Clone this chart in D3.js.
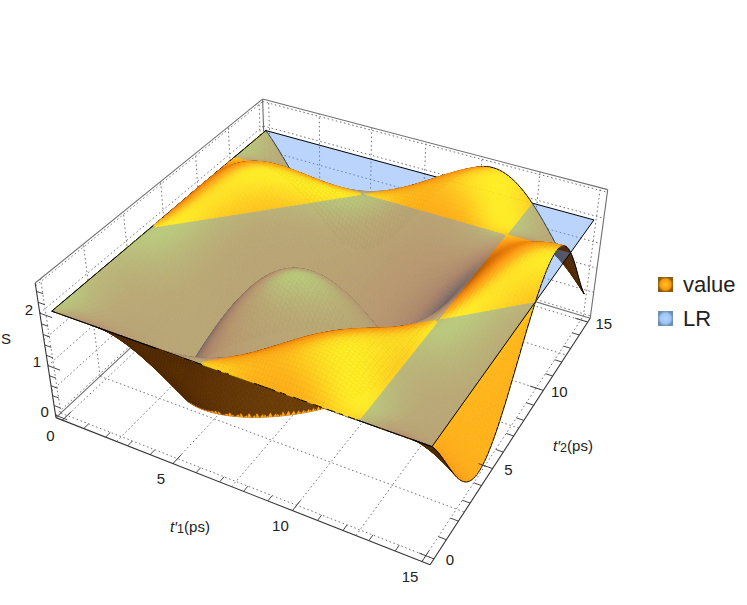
<!DOCTYPE html>
<html><head><meta charset="utf-8">
<script src="https://cdn.jsdelivr.net/npm/d3@7"></script>
<style>html,body{margin:0;background:#fff}svg{display:block}text{font-family:"Liberation Sans",Arial,sans-serif;fill:#222}</style>
</head><body><div id="chart"></div>
<script>
const tNodes=[0,1.55,3.1,4.65,6.2,7.75,9.3,10.85,12.4,13.95,15];
// signed surface heights read at the nodes; the plotted height is their magnitude (crease at S=0)
const sRow0=[2,2,2,2,2,2,2,2,2,2,2];
const sRow1=[2,1.414,1,1,1.414,2,2.414,2.414,2,1.414,1.096];
const sRow2=[2,1,0,-0.414,0,1,2,2.414,2,1,0.283];
const sRow3=[2,1,-0.414,-1.414,-1.414,-0.414,1,2,2,1,0.036];
const sRow4=[2,1.414,0,-1.414,-2,-1.414,0,1.414,2,1.414,0.501];
const sRow5=[2,2,1,-0.414,-1.414,-1.414,-0.414,1,2,2,1.405];
const sRow6=[2,2.414,2,1,0,-0.414,0,1,2,2.414,2.219];
const sRow7=[2,2.414,2.414,2,1.414,1,1,1.414,2,2.414,2.465];
const sRow8=[2,2,2,2,2,2,2,2,2,2,2];
const sRow9=[2,1.414,1,1,1.414,2,2.414,2.414,2,1.414,1.096];
const sRow10=[2,1.096,0.283,0.036,0.501,1.405,2.219,2.465,2,1.096,0.501];
const sGrid=[sRow0,sRow1,sRow2,sRow3,sRow4,sRow5,sRow6,sRow7,sRow8,sRow9,sRow10];
const planeLevel=2;
const zTicksMajor=[0,1,2];
const tTicksMajor=[0,5,10,15];
const W=747,H=605,pad=0.3,zMin=-0.05,zMax=2.55;
const bx=d3.scaleLinear([-pad,15+pad],[0,1]);
const bz=d3.scaleLinear([zMin,zMax],[0,0.4]);
// camera calibration: data point -> pixel
const anchors=[
 [0,0,2,52,311],[15,0,2,432,446],[15,15,2,594,221],[0,15,2,265,131],
 [-pad,-pad,zMin,56,418],[15+pad,-pad,zMin,430,565],[15+pad,15+pad,zMin,590,318],[-pad,15+pad,zMin,267,220],
 [-pad,-pad,zMax,35,283],[15+pad,15+pad,zMax,608,189],[-pad,15+pad,zMax,263,99]];
function solve(A,b){const n=b.length;A=A.map((r,i)=>[...r,b[i]]);
 for(let i=0;i<n;i++){let m=i;for(let k=i+1;k<n;k++)if(Math.abs(A[k][i])>Math.abs(A[m][i]))m=k;[A[i],A[m]]=[A[m],A[i]];
  for(let k=0;k<n;k++)if(k!==i){const f=A[k][i]/A[i][i];for(let q=i;q<=n;q++)A[k][q]-=f*A[i][q];}}
 return A.map((r,i)=>r[n]/r[i]);}
const rows=[],rhs=[];
anchors.forEach(([t1,t2,z,x,y])=>{const X=bx(t1),Y=bx(t2),Z=bz(z);
 rows.push([X,Y,Z,1,0,0,0,0,-x*X,-x*Y,-x*Z]);rhs.push(x);
 rows.push([0,0,0,0,X,Y,Z,1,-y*X,-y*Y,-y*Z]);rhs.push(y);});
const NtN=d3.range(11).map(i=>d3.range(11).map(j=>d3.sum(rows,r=>r[i]*r[j])));
const Ntb=d3.range(11).map(i=>d3.sum(rows,(r,k)=>r[i]*rhs[k]));
const p=solve(NtN,Ntb);
function proj(t1,t2,z){const X=bx(t1),Y=bx(t2),Z=bz(z),w=p[8]*X+p[9]*Y+p[10]*Z+1;
 return [(p[0]*X+p[1]*Y+p[2]*Z+p[3])/w,(p[4]*X+p[5]*Y+p[6]*Z+p[7])/w];}
const cam=solve([[p[0],p[1],p[2]],[p[4],p[5],p[6]],[p[8],p[9],p[10]]],[-p[3],-p[7],-1]);
// smooth surface through the table
function lag(t){let k=d3.bisectRight(tNodes,t)-3;k=Math.max(0,Math.min(tNodes.length-6,k));
 const out=[];for(let i=k;i<k+6;i++){let w=1;for(let j=k;j<k+6;j++)if(j!==i)w*=(t-tNodes[j])/(tNodes[i]-tNodes[j]);out.push([i,w]);}return out;}
const N=110,fine=d3.range(N+1).map(i=>15*i/N),W6=fine.map(lag);
const G=fine.map((_,a)=>fine.map((_,b)=>{let s=0;for(const [i,u] of W6[a])for(const [j,v] of W6[b])s+=u*v*sGrid[i][j];return s;}));
const light=[.42,-.24,.875];
const topRamp=d3.scaleLinear().domain([-.3,0,.2,.4,.6,.8,.92,.99]).range(["#5a2c00","#6e3600","#ad5702","#e67a06","#fb9810","#ffb61a","#ffda22","#ffec24"]).clamp(true);
const underRamp=d3.scaleLinear().domain([-.2,.5]).range(["#4e2803","#85500f"]).clamp(true);
function cellColor(i,j,sign){const dx=1/N*15/(15+2*pad),s=(bz(1)-bz(0))*sign;
 const zx=(G[i+1][j]+G[i+1][j+1]-G[i][j]-G[i][j+1])/2*s/dx,zy=(G[i][j+1]+G[i+1][j+1]-G[i][j]-G[i+1][j])/2*s/dx;
 const l=Math.hypot(zx,zy,1),n=[-zx/l,-zy/l,1/l];
 const mz=Math.abs(G[i][j]+G[i+1][j]+G[i][j+1]+G[i+1][j+1])/4,P=[bx((fine[i]+fine[i+1])/2),bx((fine[j]+fine[j+1])/2),bz(mz)];
 const v=[cam[0]-P[0],cam[1]-P[1],cam[2]-P[2]],vl=Math.hypot(...v);
 const d=(n[0]*v[0]+n[1]*v[1]+n[2]*v[2])/vl,q=n[0]*light[0]+n[1]*light[1]+n[2]*light[2];
 return d>=0?topRamp(q):underRamp(-q);}
function clipZ(poly,lo,hi){const cut=(pts,inside,lvl)=>{const o=[];pts.forEach((a,k)=>{const b=pts[(k+1)%pts.length],ia=inside(a[2]),ib=inside(b[2]);
   if(ia)o.push(a);if(ia!==ib){const f=(lvl-a[2])/(b[2]-a[2]);o.push([a[0]+f*(b[0]-a[0]),a[1]+f*(b[1]-a[1]),lvl]);}});return o;};
 let r=poly;if(lo!=null&&r.length)r=cut(r,z=>z>=lo,lo);if(hi!=null&&r.length)r=cut(r,z=>z<=hi,hi);return r;}
function clipSeg(a,b,lo,hi){const r=clipZ([a,b,a],lo,hi);return r.length>=2?[r[0],r.find(q=>q!==r[0]&&(q[0]!==r[0][0]||q[1]!==r[0][1]))||r[0]]:null;}
const line=d3.line();
const toPath=poly=>line(poly.map(q=>proj(q[0],q[1],q[2])))+"Z";
const abs3=q=>[q[0],q[1],Math.abs(q[2])];
function layer(lo,hi){const items=[];
 for(let i=0;i<N;i++)for(let j=N-1;j>=0;j--){
  const A=[fine[i],fine[j],G[i][j]],B=[fine[i+1],fine[j],G[i+1][j]],C=[fine[i+1],fine[j+1],G[i+1][j+1]],D=[fine[i],fine[j+1],G[i][j+1]];
  const cell=[A,B,C,D];
  [[clipZ(cell,0,null),1],[clipZ(cell,null,0),-1]].forEach(([part,sign])=>{
   if(part.length<3)return;
   const poly=clipZ(part.map(abs3),lo,hi);
   if(poly.length>2){const col=cellColor(i,j,sign);items.push({d:toPath(poly),fill:col,stroke:col,w:.6});}
  });
  const edges=[];if(i===0)edges.push([A,D]);if(i===N-1)edges.push([B,C]);if(j===0)edges.push([A,B]);if(j===N-1)edges.push([D,C]);
  edges.forEach(([a,b])=>{const s=clipSeg(abs3(a),abs3(b),lo,hi);if(s){items.push({d:line([proj(...s[0]),proj(...s[1])]),fill:"none",stroke:"#000",w:1});}});
 }return items;}
const svg=d3.select("#chart").append("svg").attr("width",W).attr("height",H);
const L=(g,a,b,cls)=>g.append("path").attr("d",line([proj(...a),proj(...b)])).attr("fill","none").attr("stroke",cls.c).attr("stroke-width",cls.w).attr("stroke-dasharray",cls.dash||null);
// grid
const grid=svg.append("g"),gs={c:"#777",w:1,dash:"1.6 2.6"};
const gridT=d3.range(0,15.1,2.5),gridZ=d3.range(0,2.6,.5),lo=-pad,hi=15+pad;
gridT.forEach(t=>{L(grid,[t,lo,zMin],[t,hi,zMin],gs);L(grid,[lo,t,zMin],[hi,t,zMin],gs);L(grid,[lo,t,zMin],[lo,t,zMax],gs);L(grid,[t,hi,zMin],[t,hi,zMax],gs);});
gridZ.forEach(z=>{L(grid,[lo,lo,z],[lo,hi,z],gs);L(grid,[lo,hi,z],[hi,hi,z],gs);});
// box back edges
const bs={c:"#707070",w:1.1};
[[[lo,lo,zMax],[lo,hi,zMax]],[[lo,hi,zMax],[hi,hi,zMax]],[[lo,hi,zMax],[lo,hi,zMin]],[[hi,hi,zMax],[hi,hi,zMin]],[[lo,lo,zMin],[lo,hi,zMin]],[[lo,hi,zMin],[hi,hi,zMin]]].forEach(e=>L(grid,e[0],e[1],bs));
// surface below plane, plane, surface above plane
const draw=(items)=>svg.append("g").selectAll("path").data(items).join("path").attr("d",d=>d.d).attr("fill",d=>d.fill).attr("stroke",d=>d.stroke).attr("stroke-width",d=>d.w).attr("stroke-linejoin","round");
draw(layer(null,planeLevel));
svg.append("path").attr("d",toPath([[0,0,planeLevel],[15,0,planeLevel],[15,15,planeLevel],[0,15,planeLevel]])).attr("fill","rgb(88,150,248)").attr("fill-opacity",.41).attr("stroke","#000").attr("stroke-width",1);
draw(layer(planeLevel,null));
// axes
const ax=svg.append("g"),as={c:"#333",w:1.1},ts={c:"#333",w:.9};
L(ax,[lo,lo,zMin],[lo,lo,zMax],as);L(ax,[lo,lo,zMin],[hi,lo,zMin],as);L(ax,[hi,lo,zMin],[hi,hi,zMin],as);
d3.range(0,16).forEach(t=>{const m=t%5===0,l=m?.55:.3;L(ax,[t,lo,zMin],[t,lo+l,zMin],ts);L(ax,[hi,t,zMin],[hi-l,t,zMin],ts);});
d3.range(0,2.41,.2).forEach(z=>{const m=Math.abs(z-Math.round(z))<.01,l=m?.55:.3;L(ax,[lo,lo,z],[lo+l,lo,z],ts);});
const T=(x,y,s,size,anchor)=>svg.append("text").attr("x",x).attr("y",y).attr("font-size",size).attr("text-anchor",anchor||"middle").attr("dominant-baseline","central").text(s);
tTicksMajor.forEach(t=>{let q=proj(t,lo,zMin);T(q[0]-12,q[1]+15,t,15);q=proj(hi,t,zMin);T(q[0]+16,q[1]+1,t,15);});
zTicksMajor.forEach(z=>{const q=proj(lo,lo,z);T(q[0]-11,q[1]-4,z,15);});
T(6,338,"S",15);
function axisLabel(x,y,sub){const t=svg.append("text").attr("x",x).attr("y",y).attr("font-size",15).attr("text-anchor","middle").attr("dominant-baseline","central");
 t.append("tspan").attr("font-style","italic").text("t\u2032");t.append("tspan").attr("dy",3).attr("font-size",12.5).text(sub);t.append("tspan").attr("dy",-3).text("(ps)");}
axisLabel(190,526,"1");axisLabel(573,445,"2");
// legend
const defs=svg.append("defs");
const rg=(id,a,b,e)=>{const g=defs.append("radialGradient").attr("id",id);g.append("stop").attr("offset","0%").attr("stop-color",a);g.append("stop").attr("offset","70%").attr("stop-color",b);g.append("stop").attr("offset","100%").attr("stop-color",e);};
rg("lv","#ffc21e","#f79a10","#8a5a10");rg("lb","#b4d6ff","#9cc4f4","#6f8fb0");
[["value","lv",277],["LR","lb",311]].forEach(([n,g,y])=>{svg.append("rect").attr("x",658).attr("y",y).attr("width",15).attr("height",15).attr("fill",`url(#${g})`);
 T(683,y+7.5,n,22,"start");});
</script></body></html>
